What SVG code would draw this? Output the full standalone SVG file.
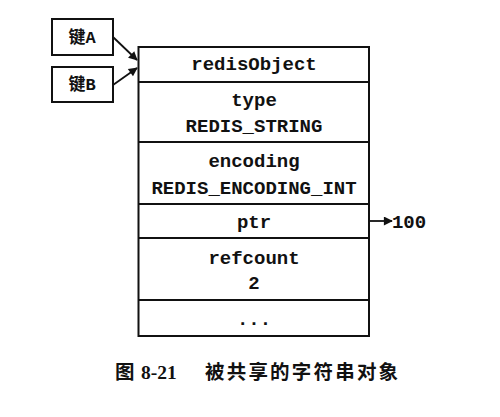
<svg xmlns="http://www.w3.org/2000/svg" width="500" height="417" viewBox="0 0 500 417">
<style>
.box{fill:#fff;stroke:#111;stroke-width:2}
.sep{stroke:#111;stroke-width:1.8;fill:none}
.mono{font-family:"Liberation Mono","DejaVu Sans Mono",monospace;font-weight:bold;font-size:19px;fill:#111;text-anchor:middle}
.key{font-family:"Liberation Mono","Noto Sans CJK SC",monospace;font-weight:bold;font-size:17px;fill:#111;text-anchor:middle}
.cjk{font-family:"Noto Sans CJK SC",sans-serif;font-weight:bold}
.cap{font-size:19.5px;fill:#111}
.conn{stroke:#111;stroke-width:1.8;fill:none}
</style>
<defs>
<marker id="ah" viewBox="0 0 10 10" refX="9" refY="5" markerWidth="6" markerHeight="5" orient="auto" markerUnits="strokeWidth">
<path d="M0,0 L10,5 L0,10 z" fill="#111"/>
</marker>
</defs>
<rect width="500" height="417" fill="#fff"/>
<g id="keyA">
<rect class="box" x="52" y="19" width="61" height="36"/>
<text class="key" x="82" y="43"><tspan class="cjk">键</tspan>A</text>
</g>
<g id="keyB">
<rect class="box" x="52" y="67" width="61" height="35"/>
<text class="key" x="82" y="90"><tspan class="cjk">键</tspan>B</text>
</g>
<g id="redisObject">
<rect class="box" x="138.5" y="47" width="230.5" height="289"/>
<line class="sep" x1="138.5" y1="82" x2="369" y2="82"/>
<line class="sep" x1="138.5" y1="142" x2="369" y2="142"/>
<line class="sep" x1="138.5" y1="204" x2="369" y2="204"/>
<line class="sep" x1="138.5" y1="238" x2="369" y2="238"/>
<line class="sep" x1="138.5" y1="300" x2="369" y2="300"/>
<text class="mono" x="254" y="70">redisObject</text>
<text class="mono" x="254" y="106">type</text>
<text class="mono" x="254" y="132">REDIS_STRING</text>
<text class="mono" x="254" y="167">encoding</text>
<text class="mono" x="254" y="194">REDIS_ENCODING_INT</text>
<text class="mono" x="254" y="228">ptr</text>
<text class="mono" x="254" y="264">refcount</text>
<text class="mono" x="254" y="289">2</text>
<text class="mono" x="254" y="325">...</text>
</g>
<g id="value100">
<text class="mono" x="409" y="228">100</text>
</g>
<g id="connectors">
<line class="conn" x1="113" y1="37" x2="137" y2="60" marker-end="url(#ah)"/>
<line class="conn" x1="113" y1="85" x2="137" y2="68" marker-end="url(#ah)"/>
<line class="conn" x1="369" y1="221" x2="392" y2="221" marker-end="url(#ah)"/>
</g>
<g id="caption">
<text class="cap" x="115" y="379"><tspan class="cjk">图</tspan><tspan font-family="Liberation Serif,serif" font-weight="bold" x="141">8-21</tspan><tspan class="cjk" x="205" letter-spacing="2.2">被共享的字符串对象</tspan></text>
</g>
</svg>
